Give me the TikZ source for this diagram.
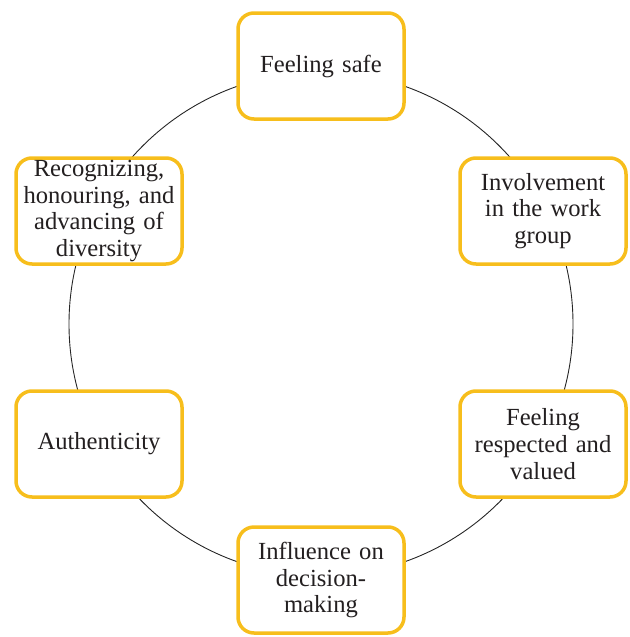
\documentclass[tikz,border=0pt]{standalone}
\usepackage{fontspec}
\setmainfont{Liberation Serif}
\definecolor{boxgold}{RGB}{247,190,28}
\definecolor{ink}{RGB}{35,31,32}
\begin{document}
\begin{tikzpicture}[x=1pt,y=-1pt,
  stage/.style={draw=boxgold, line width=3.5pt, fill=white, rounded corners=16pt,
    minimum width=166pt, minimum height=106pt, text width=160pt, align=center,
    inner sep=0pt, font=\fontsize{24.6}{26.6}\selectfont, text=ink}]
\useasboundingbox (0,0) rectangle (629,637);
\coordinate (c) at (321,324);
\draw[line width=0.9pt, black!85] (c) circle[radius=252pt];
\node[stage] (safe) at (321,66) {\raisebox{-2pt}{Feeling safe}};
\node[stage] (involve) at (543,211) {\raisebox{-2pt}{\parbox{160pt}{\centering Involvement\\in the work\\group}}};
\node[stage] (respect) at (543,444) {\raisebox{-2pt}{\parbox{160pt}{\centering Feeling\\respected and\\valued}}};
\node[stage] (influence) at (321,580) {\raisebox{-2pt}{\parbox{160pt}{\centering Influence on\\decision-\\making}}};
\node[stage] (authentic) at (99,444) {\raisebox{-2pt}{Authenticity}};
\node[stage] (diversity) at (99,211) {\raisebox{-2pt}{\parbox{160pt}{\centering Recognizing,\\honouring, and\\advancing of\\diversity}}};
\end{tikzpicture}
\end{document}
